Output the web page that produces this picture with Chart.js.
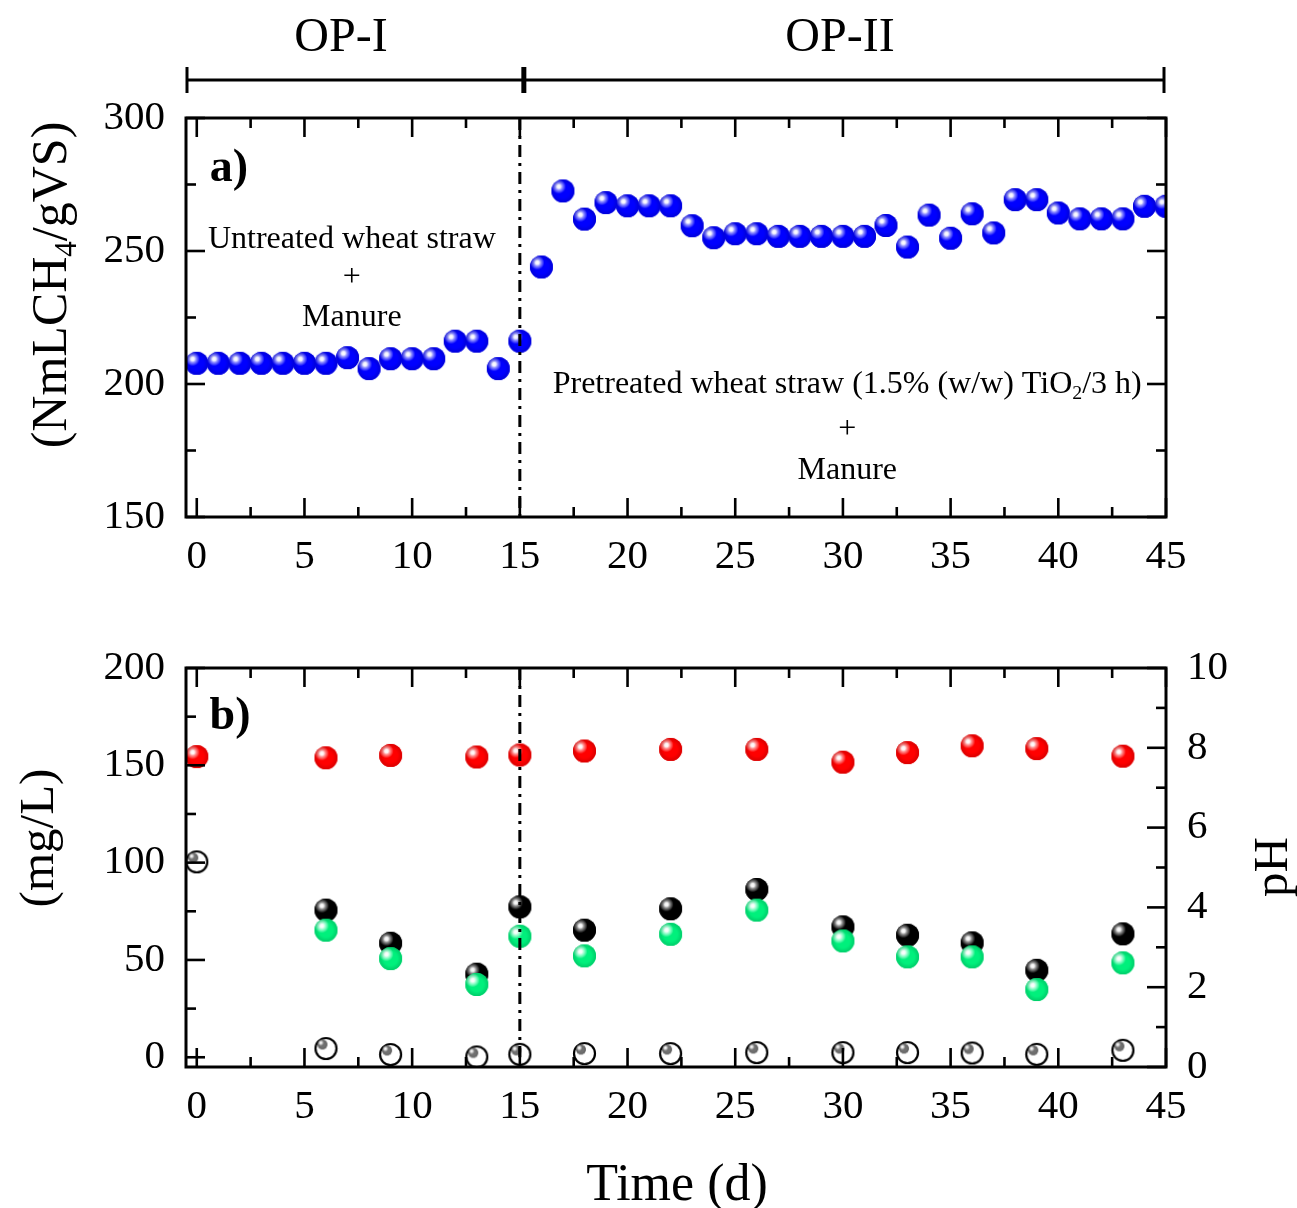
<!DOCTYPE html>
<html>
<head>
<meta charset="utf-8">
<script src="https://cdn.jsdelivr.net/npm/chart.js@4.4.1/dist/chart.umd.min.js"></script>
<style>
  html, body { margin: 0; padding: 0; background: #fff; }
  #wrap { position: relative; width: 1297px; height: 1208px; }
  canvas { position: absolute; left: 0; }
  #top { top: 0; }
  #bot { top: 600px; }
</style>
</head>
<body>
<div id="wrap">
  <canvas id="top" width="1297" height="600"></canvas>
  <canvas id="bot" width="1297" height="608"></canvas>
</div>
<script>
// ---- data ----
const days = [0,1,2,3,4,5,6,7,8,9,10,11,12,13,14,15,16,17,18,19,20,21,22,23,24,25,26,27,28,29,30,31,32,33,34,35,36,37,38,39,40,41,42,43,44,45]
const methaneYield = [207.8,207.8,207.8,207.8,207.8,207.8,207.8,209.9,205.8,209.5,209.5,209.5,216.1,216.1,205.8,216.1,
  244,272.6,262,268.2,267,267,267,259.5,255,256.5,256.5,255.5,255.5,255.5,255.5,255.5,259.6,251.5,263.5,254.8,264,256.8,
  269.3,269.3,264.3,262.1,262.1,262.1,266.8,266.8]

const sampleDays = [0,6,9,13,15,18,22,26,30,33,36,39,43]
const phValues    = [7.78,7.75,7.81,7.77,7.82,7.92,7.96,7.96,7.64,7.88,8.05,7.98,7.79]
const blackValues = [null,75.6,58.6,42.7,77.3,65.3,76.3,86.2,67.0,62.7,58.8,44.7,63.4]
const greenValues = [null,65.3,50.7,37.4,62.2,52.1,63.2,75.6,59.8,51.6,51.6,34.8,48.5]
const openValues  = [100.4,4.5,1.4,0.2,1.5,1.9,1.9,2.4,2.4,2.4,2.2,1.5,3.6]

const xTicks = [0,5,10,15,20,25,30,35,40,45]
const xMinor = [2.5,7.5,12.5,17.5,22.5,27.5,32.5,37.5,42.5]
const yTopTicks = [150,200,250,300]
const yTopMinor = [175,225,275]
const yBotTicks = [0,50,100,150,200]
const yBotMinor = [25,75,125,175]
const phTicks = [0,2,4,6,8,10]
const phMinor = [1,3,5,7,9]

const FONT = '"Liberation Serif", "Times New Roman", serif'

// ---- shaded ball markers ----
function ball(r, base, tint) {
  const c = document.createElement('canvas')
  c.width = c.height = Math.ceil(2 * r + 2)
  const g = c.getContext('2d')
  const cx = c.width / 2, cy = c.height / 2
  g.fillStyle = base
  g.beginPath(); g.arc(cx, cy, r, 0, Math.PI * 2); g.fill()
  const hx = cx - 0.36 * r, hy = cy - 0.38 * r
  const gr = g.createRadialGradient(hx, hy, 0, hx, hy, 0.62 * r)
  gr.addColorStop(0, 'rgba(255,255,255,1)')
  gr.addColorStop(0.25, 'rgba(255,255,255,0.95)')
  gr.addColorStop(0.52, tint)
  gr.addColorStop(1, base)
  g.fillStyle = gr
  g.beginPath(); g.arc(cx, cy, r, 0, Math.PI * 2); g.fill()
  const ed = g.createRadialGradient(cx, cy, 0.6 * r, cx, cy, r)
  ed.addColorStop(0, 'rgba(0,0,0,0)')
  ed.addColorStop(1, 'rgba(0,0,0,0.15)')
  g.fillStyle = ed
  g.beginPath(); g.arc(cx, cy, r, 0, Math.PI * 2); g.fill()
  return c
}

function ring(r) {
  const c = document.createElement('canvas')
  c.width = c.height = Math.ceil(2 * r + 4)
  const g = c.getContext('2d')
  const cx = c.width / 2, cy = c.height / 2
  g.strokeStyle = '#000'; g.lineWidth = 2.2
  g.beginPath(); g.arc(cx, cy, r, 0, Math.PI * 2); g.stroke()
  const small = ball(4.8, '#707070', 'rgba(215,215,215,0.9)')
  g.drawImage(small, cx - 3.5 - small.width / 2, cy - 4 - small.height / 2)
  return c
}

const blueBall = ball(11.5, '#0000ff', 'rgba(150,150,255,0.9)')
const redBall = ball(11.5, '#ff0000', 'rgba(255,150,150,0.9)')
const blackBall = ball(11.5, '#000000', 'rgba(150,150,150,0.9)')
const greenBall = ball(11.5, '#00f07c', 'rgba(170,255,215,0.9)')
const openRing = ring(10.5)

// ---- helpers ----
function marks(ctx, scale, values, len, side, a) {
  values.forEach(v => {
    const p = scale.getPixelForValue(v)
    ctx.beginPath()
    if (side === 'bottom') { ctx.moveTo(p, a.bottom); ctx.lineTo(p, a.bottom - len) }
    if (side === 'top') { ctx.moveTo(p, a.top); ctx.lineTo(p, a.top + len) }
    if (side === 'left') { ctx.moveTo(a.left, p); ctx.lineTo(a.left + len, p) }
    if (side === 'right') { ctx.moveTo(a.right, p); ctx.lineTo(a.right - len, p) }
    ctx.stroke()
  })
}

// parts: [[text, isSub], ...], centred on x,y
function rich(ctx, parts, x, y, size, rot, weight) {
  ctx.save()
  ctx.translate(x, y)
  ctx.rotate(rot || 0)
  ctx.fillStyle = '#000'
  ctx.textAlign = 'left'
  ctx.textBaseline = 'alphabetic'
  const sub = size * 0.62
  let w = 0
  const ws = parts.map(p => {
    ctx.font = (weight || '') + ' ' + (p[1] ? sub : size) + 'px ' + FONT
    const m = ctx.measureText(p[0]).width
    w += m
    return m
  })
  let cx = -w / 2
  const base = size * 0.32
  parts.forEach((p, i) => {
    ctx.font = (weight || '') + ' ' + (p[1] ? sub : size) + 'px ' + FONT
    ctx.fillText(p[0], cx, base + (p[1] ? size * 0.2 : 0))
    cx += ws[i]
  })
  ctx.restore()
}

function dashDot(ctx, x, y0, y1) {
  ctx.save()
  ctx.lineWidth = 3
  ctx.strokeStyle = '#000'
  ctx.setLineDash([12, 6, 3, 6])
  ctx.beginPath(); ctx.moveTo(x, y0); ctx.lineTo(x, y1); ctx.stroke()
  ctx.restore()
}

function frame(ctx, a) {
  ctx.lineWidth = 3
  ctx.strokeStyle = '#000'
  ctx.strokeRect(a.left, a.top, a.right - a.left, a.bottom - a.top)
}

const tickFont = { family: FONT, size: 41 }
const noGrid = { display: false, drawTicks: false }

/* ========== panel a ========== */

const topPanel = {
  id: 'topPanel',
  afterDatasetsDraw(chart) {
    const { ctx, chartArea: a, scales } = chart
    dashDot(ctx, scales.x.getPixelForValue(15), a.top, a.bottom)
  },
  afterDraw(chart) {
    const { ctx, chartArea: a, scales } = chart
    const x = scales.x, y = scales.y
    ctx.save()
    frame(ctx, a)
    ctx.lineWidth = 2.6
    marks(ctx, x, xTicks, 19, 'bottom', a)
    marks(ctx, x, xTicks, 19, 'top', a)
    marks(ctx, x, xMinor, 10, 'bottom', a)
    marks(ctx, x, xMinor, 10, 'top', a)
    marks(ctx, y, yTopTicks, 19, 'left', a)
    marks(ctx, y, yTopTicks, 19, 'right', a)
    marks(ctx, y, yTopMinor, 10, 'left', a)
    marks(ctx, y, yTopMinor, 10, 'right', a)

    // OP bracket
    const mid = x.getPixelForValue(15) + 4
    ctx.lineWidth = 3
    ctx.beginPath(); ctx.moveTo(a.left + 1, 80); ctx.lineTo(a.right - 2, 80); ctx.stroke()
    ctx.beginPath(); ctx.moveTo(a.left + 1, 67); ctx.lineTo(a.left + 1, 93); ctx.stroke()
    ctx.beginPath(); ctx.moveTo(a.right - 2, 67); ctx.lineTo(a.right - 2, 93); ctx.stroke()
    ctx.lineWidth = 5
    ctx.beginPath(); ctx.moveTo(mid, 67); ctx.lineTo(mid, 93); ctx.stroke()
    ctx.restore()

    rich(ctx, [['OP-I']], 341, 36, 48)
    rich(ctx, [['OP-II']], 840, 36, 48)

    rich(ctx, [['(NmLCH'], ['4', true], ['/gVS)']], 50, 285, 50, -Math.PI / 2)
    rich(ctx, [['a)']], 229, 166, 46, 0, 'bold')

    const lx = x.getPixelForValue(7.2)
    rich(ctx, [['Untreated wheat straw']], lx, y.getPixelForValue(255), 32)
    rich(ctx, [['+']], lx, y.getPixelForValue(240.6), 32)
    rich(ctx, [['Manure']], lx, y.getPixelForValue(225.5), 32)

    const rx = x.getPixelForValue(30.2)
    rich(ctx, [['Pretreated wheat straw (1.5% (w/w) TiO'], ['2', true], ['/3 h)']], rx, y.getPixelForValue(200.6), 32)
    rich(ctx, [['+']], rx, y.getPixelForValue(183.4), 32)
    rich(ctx, [['Manure']], rx, y.getPixelForValue(168), 32)
  }
}

new Chart(document.getElementById('top'), {
  type: 'scatter',
  data: {
    datasets: [{
      label: 'Methane yield',
      data: days.map((d, i) => ({ x: d, y: methaneYield[i] })),
      pointStyle: blueBall,
      pointRadius: 12,
      pointHoverRadius: 12
    }]
  },
  options: {
    responsive: false,
    animation: false,
    devicePixelRatio: 1,
    layout: { padding: { top: 118, right: 131, left: 0, bottom: 0 } },
    plugins: { legend: { display: false }, tooltip: { enabled: false } },
    scales: {
      x: {
        type: 'linear', min: -0.5, max: 45,
        grid: noGrid, border: { display: false },
        afterBuildTicks: s => { s.ticks = xTicks.map(v => ({ value: v })) },
        afterFit: s => { s.height = 83 },
        ticks: { font: tickFont, color: '#000', padding: 16, maxRotation: 0, autoSkip: false }
      },
      y: {
        min: 150, max: 300,
        grid: noGrid, border: { display: false },
        afterBuildTicks: s => { s.ticks = yTopTicks.map(v => ({ value: v })) },
        afterFit: s => { s.width = 186 },
        ticks: { font: tickFont, color: '#000', padding: 21 }
      }
    }
  },
  plugins: [topPanel]
})

/* ========== panel b ========== */

const botPanel = {
  id: 'botPanel',
  afterDatasetsDraw(chart) {
    const { ctx, chartArea: a, scales } = chart
    dashDot(ctx, scales.x.getPixelForValue(15), a.top, scales.y.getPixelForValue(0))
  },
  afterDraw(chart) {
    const { ctx, chartArea: a, scales } = chart
    const x = scales.x, y = scales.y, y2 = scales.y2
    ctx.save()
    frame(ctx, a)
    ctx.lineWidth = 2.6
    marks(ctx, x, xTicks, 19, 'bottom', a)
    marks(ctx, x, xTicks, 19, 'top', a)
    marks(ctx, x, xMinor, 10, 'bottom', a)
    marks(ctx, x, xMinor, 10, 'top', a)
    marks(ctx, y, yBotTicks, 19, 'left', a)
    marks(ctx, y, yBotMinor, 10, 'left', a)
    marks(ctx, y2, phTicks, 19, 'right', a)
    marks(ctx, y2, phMinor, 10, 'right', a)
    ctx.restore()

    rich(ctx, [['(mg/L)']], 37, 238, 49, -Math.PI / 2)
    rich(ctx, [['pH']], 1271, 267, 49, -Math.PI / 2)
    rich(ctx, [['b)']], 230, 114, 46, 0, 'bold')
    rich(ctx, [['Time (d)']], 677, 583, 52)
  }
}

function pairs(vals) {
  return sampleDays.map((d, i) => ({ x: d, y: vals[i] })).filter(p => p.y !== null)
}

new Chart(document.getElementById('bot'), {
  type: 'scatter',
  data: {
    datasets: [
      { label: 'green', data: pairs(greenValues), pointStyle: greenBall, pointRadius: 12, yAxisID: 'y' },
      { label: 'black', data: pairs(blackValues), pointStyle: blackBall, pointRadius: 12, yAxisID: 'y' },
      { label: 'open', data: pairs(openValues), pointStyle: openRing, pointRadius: 12, yAxisID: 'y' },
      { label: 'pH', data: pairs(phValues), pointStyle: redBall, pointRadius: 12, yAxisID: 'y2' }
    ]
  },
  options: {
    responsive: false,
    animation: false,
    devicePixelRatio: 1,
    layout: { padding: { top: 68, right: 0, left: 0, bottom: 0 } },
    plugins: { legend: { display: false }, tooltip: { enabled: false } },
    scales: {
      x: {
        type: 'linear', min: -0.5, max: 45,
        grid: noGrid, border: { display: false },
        afterBuildTicks: s => { s.ticks = xTicks.map(v => ({ value: v })) },
        afterFit: s => { s.height = 141 },
        ticks: { font: tickFont, color: '#000', padding: 16, maxRotation: 0, autoSkip: false }
      },
      y: {
        position: 'left', min: -5, max: 200,
        grid: noGrid, border: { display: false },
        afterBuildTicks: s => { s.ticks = yBotTicks.map(v => ({ value: v })) },
        afterFit: s => { s.width = 186 },
        ticks: { font: tickFont, color: '#000', padding: 21 }
      },
      y2: {
        position: 'right', min: 0, max: 10,
        grid: noGrid, border: { display: false },
        afterBuildTicks: s => { s.ticks = phTicks.map(v => ({ value: v })) },
        afterFit: s => { s.width = 131 },
        ticks: { font: tickFont, color: '#000', padding: 21 }
      }
    }
  },
  plugins: [botPanel]
})
</script>
</body>
</html>
